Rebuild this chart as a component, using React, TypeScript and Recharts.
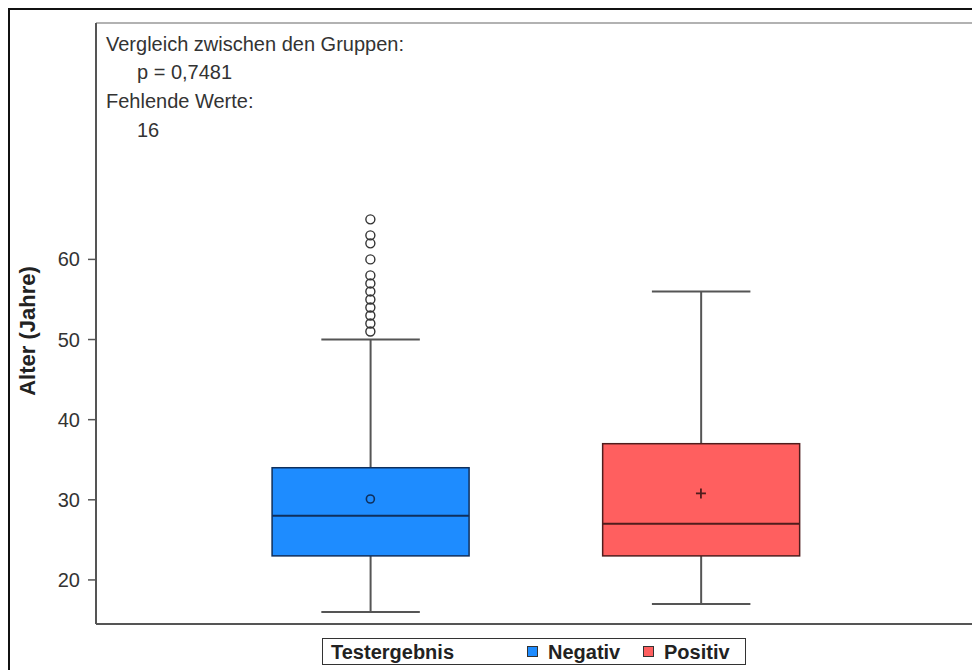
import {
  ComposedChart,
  Bar,
  Scatter,
  XAxis,
  YAxis,
  ReferenceLine,
  Legend,
  Customized,
} from "recharts";

const groups = ["Negativ", "Positiv"];
const groupX = [1, 2];
const whiskerLow = [16, 17];
const q1 = [23, 23];
const median = [28, 27];
const q3 = [34, 37];
const whiskerHigh = [50, 56];
const means = [30.1, 30.8];
const outliersNegativ = [51, 52, 53, 54, 55, 56, 57, 58, 60, 62, 63, 65];
const yTicks = [20, 30, 40, 50, 60];

const fills = ["#1e8cff", "#ff5f5f"];
const edges = ["#0f2f5c", "#4f1d1d"];
const FONT = '"Liberation Sans", Arial, sans-serif';

const boxData = groups.map((g, i) => ({
  x: groupX[i],
  group: g,
  range: [whiskerLow[i], whiskerHigh[i]],
  q1: q1[i],
  median: median[i],
  q3: q3[i],
  idx: i,
}));

const meanData = groups.map((g, i) => ({ x: groupX[i], y: means[i], idx: i }));
const outlierData = outliersNegativ.map((v) => ({ x: groupX[0], y: v }));

function BoxShape(props: any) {
  const { x, y, width, height, payload } = props;
  const [lo, hi] = payload.range;
  const ppu = height / (hi - lo);
  const toY = (v: number) => y + (hi - v) * ppu;
  const cx = x + width / 2;
  const cap = width / 4;
  const i = payload.idx;
  return (
    <g>
      <line x1={cx} x2={cx} y1={toY(hi)} y2={toY(payload.q3)} stroke="#555" strokeWidth={2} />
      <line x1={cx} x2={cx} y1={toY(payload.q1)} y2={toY(lo)} stroke="#555" strokeWidth={2} />
      <line x1={cx - cap} x2={cx + cap} y1={toY(hi)} y2={toY(hi)} stroke="#555" strokeWidth={2} />
      <line x1={cx - cap} x2={cx + cap} y1={toY(lo)} y2={toY(lo)} stroke="#555" strokeWidth={2} />
      <rect
        x={x}
        y={toY(payload.q3)}
        width={width}
        height={toY(payload.q1) - toY(payload.q3)}
        fill={fills[i]}
        stroke={edges[i]}
        strokeWidth={1.5}
      />
      <line
        x1={x}
        x2={x + width}
        y1={toY(payload.median)}
        y2={toY(payload.median)}
        stroke={edges[i]}
        strokeWidth={2}
      />
    </g>
  );
}

function MeanShape(props: any) {
  const { cx, cy, payload } = props;
  if (payload.idx === 0) {
    return <circle cx={cx} cy={cy} r={4} fill="none" stroke={edges[0]} strokeWidth={1.6} />;
  }
  return (
    <g stroke={edges[1]} strokeWidth={1.8}>
      <line x1={cx - 5} x2={cx + 5} y1={cy} y2={cy} />
      <line x1={cx} x2={cx} y1={cy - 5} y2={cy + 5} />
    </g>
  );
}

function OutlierShape(props: any) {
  const { cx, cy } = props;
  return <circle cx={cx} cy={cy} r={4.5} fill="none" stroke="#333" strokeWidth={1.4} />;
}

function Annotations() {
  const t = { fontFamily: FONT, fontSize: 20, fill: "#333" };
  return (
    <g>
      <text x={96} y={41} {...t}>Vergleich zwischen den Gruppen:</text>
      <text x={127} y={69} {...t}>p = 0,7481</text>
      <text x={96} y={98} {...t}>Fehlende Werte:</text>
      <text x={127} y={127} {...t}>16</text>
      <text
        transform="translate(25,321) rotate(-90)"
        textAnchor="middle"
        fontFamily={FONT}
        fontSize={22}
        fontWeight="bold"
        fill="#222"
      >
        Alter (Jahre)
      </text>
    </g>
  );
}

function LegendBox() {
  const sq = (c: string) => ({
    position: "absolute" as const,
    top: 7,
    width: 11,
    height: 11,
    background: c,
    border: "1px solid #333",
    boxSizing: "border-box" as const,
  });
  const lbl = { position: "absolute" as const, top: 2, lineHeight: "22px" };
  return (
    <div
      style={{
        position: "relative",
        width: 424,
        height: 27,
        boxSizing: "border-box",
        border: "1.5px solid #333",
        background: "#fff",
        fontFamily: FONT,
        fontWeight: "bold",
        fontSize: 20,
        color: "#222",
      }}
    >
      <span style={{ ...lbl, left: 8 }}>Testergebnis</span>
      <span style={{ ...sq(fills[0]), left: 204 }} />
      <span style={{ ...lbl, left: 225 }}>{groups[0]}</span>
      <span style={{ ...sq(fills[1]), left: 320 }} />
      <span style={{ ...lbl, left: 341 }}>{groups[1]}</span>
    </div>
  );
}

export default function App() {
  return (
    <div
      style={{
        width: 962,
        height: 660,
        borderTop: "2px solid #111",
        borderLeft: "2px solid #111",
        overflow: "hidden",
        background: "#fff",
      }}
    >
      <style>{"body{margin:8px 0 0 8px;overflow:hidden}"}</style>
      <ComposedChart
        width={962}
        height={660}
        data={boxData}
        margin={{ top: 13, right: 0, bottom: 45, left: 0 }}
      >
        <XAxis
          type="number"
          dataKey="x"
          domain={[0.17, 2.82]}
          allowDataOverflow
          tick={false}
          tickLine={false}
          height={1}
          axisLine={{ stroke: "#555", strokeWidth: 2 }}
        />
        <YAxis
          type="number"
          domain={[14.5, 89.5]}
          ticks={yTicks}
          allowDataOverflow
          width={86}
          tickSize={8}
          tickMargin={8}
          axisLine={{ stroke: "#555", strokeWidth: 2 }}
          tickLine={{ stroke: "#555", strokeWidth: 1.5 }}
          tick={{ fontFamily: FONT, fontSize: 20, fill: "#333" }}
        />
        <ReferenceLine y={89.5} stroke="#999" strokeWidth={1.5} />
        <Bar dataKey="range" barSize={197} shape={BoxShape} isAnimationActive={false} />
        <Scatter data={outlierData} dataKey="y" shape={OutlierShape} isAnimationActive={false} />
        <Scatter data={meanData} dataKey="y" shape={MeanShape} isAnimationActive={false} />
        <Customized component={Annotations} />
        <Legend
          verticalAlign="middle"
          layout="horizontal"
          content={() => <LegendBox />}
          wrapperStyle={{ left: 312, top: 628, width: 424, height: 27 }}
        />
      </ComposedChart>
    </div>
  );
}
